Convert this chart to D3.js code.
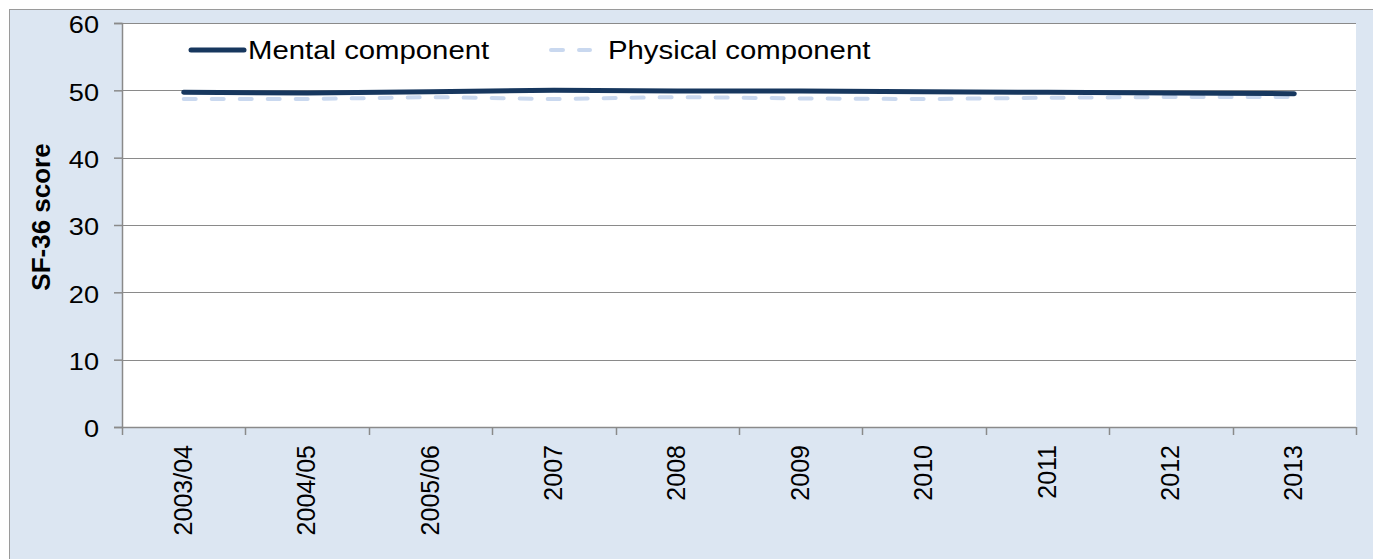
<!DOCTYPE html>
<html>
<head>
<meta charset="utf-8">
<script src="https://cdn.jsdelivr.net/npm/d3@7"></script>
<style>
  html, body { margin: 0; padding: 0; background: #ffffff; }
  svg { display: block; font-family: "Liberation Sans", Arial, sans-serif; }
</style>
</head>
<body>
<svg id="chart" width="1373" height="559"></svg>
<script>
// SF-36 summary scores by survey wave
const categories = ["2003/04", "2004/05", "2005/06", "2007", "2008", "2009", "2010", "2011", "2012", "2013"];
const mentalScores = [49.7, 49.6, 49.8, 50.0, 49.9, 49.9, 49.8, 49.7, 49.6, 49.5];
const physicalScores = [48.7, 48.7, 49.0, 48.7, 49.0, 48.8, 48.7, 48.9, 49.0, 49.0];
const yTicks = [0, 10, 20, 30, 40, 50, 60];
const seriesNames = ["Mental component", "Physical component"];

const svg = d3.select("#chart");
const W = 1373, H = 559;
const plot = { left: 122, right: 1356, top: 23, bottom: 427 };

// outer chart background
svg.append("rect")
  .attr("x", 9.5).attr("y", 9.5)
  .attr("width", W + 20).attr("height", H + 20)
  .attr("fill", "#dce6f2").attr("stroke", "#9a9a9a").attr("stroke-width", 1);

// plot area
svg.append("rect")
  .attr("x", plot.left).attr("y", plot.top)
  .attr("width", plot.right - plot.left).attr("height", plot.bottom - plot.top)
  .attr("fill", "#ffffff");

const x = d3.scaleBand().domain(categories).range([plot.left, plot.right]).paddingInner(0).paddingOuter(0);
const xc = d => x(d) + x.bandwidth() / 2;
const y = d3.scaleLinear().domain([0, 60]).range([plot.bottom, plot.top]);

// horizontal gridlines
svg.append("g").selectAll("line").data(yTicks.filter(t => t > 0)).join("line")
  .attr("x1", plot.left).attr("x2", plot.right)
  .attr("y1", d => Math.round(y(d)) + 0.5).attr("y2", d => Math.round(y(d)) + 0.5)
  .attr("stroke", "#8a8a8a").attr("stroke-width", 1);

// y axis
const yAxis = svg.append("g")
  .attr("transform", `translate(${plot.left},0)`)
  .call(d3.axisLeft(y).tickValues(yTicks).tickSize(8).tickPadding(8).tickFormat(d3.format("d")));
yAxis.select(".domain").attr("stroke", "#8a8a8a").attr("stroke-width", 1.5);
yAxis.selectAll(".tick line").attr("stroke", "#8a8a8a").attr("stroke-width", 1.5);
yAxis.selectAll(".tick text")
  .attr("font-size", 23).attr("fill", "#000")
  .attr("font-family", "Liberation Sans, Arial, sans-serif")
  .attr("dy", "0.42em")
  .attr("transform", "translate(-23,0) scale(1.18,1)")
  .attr("x", 0);

// x axis: line with ticks at category boundaries
const xAxis = svg.append("g");
xAxis.append("line")
  .attr("x1", plot.left).attr("x2", plot.right)
  .attr("y1", plot.bottom + 0.5).attr("y2", plot.bottom + 0.5)
  .attr("stroke", "#8a8a8a").attr("stroke-width", 1.5);
const edges = categories.map(c => x(c)).concat([plot.right]);
xAxis.selectAll("line.tk").data(edges).join("line").attr("class", "tk")
  .attr("x1", d => Math.round(d) + 0.5).attr("x2", d => Math.round(d) + 0.5)
  .attr("y1", plot.bottom).attr("y2", plot.bottom + 8)
  .attr("stroke", "#8a8a8a").attr("stroke-width", 1.5);
xAxis.selectAll("text").data(categories).join("text")
  .attr("transform", d => `translate(${xc(d) + 8},${plot.bottom + 18}) rotate(-90)`)
  .attr("text-anchor", "end")
  .attr("font-size", 25)
  .attr("fill", "#000")
  .text(d => d);

// y axis title
svg.append("text")
  .attr("transform", `translate(50,${(plot.top + plot.bottom) / 2 - 8}) rotate(-90)`)
  .attr("text-anchor", "middle")
  .attr("font-size", 26).attr("font-weight", "bold").attr("fill", "#000")
  .text("SF-36 score");

// series lines
const line = d3.line().x((d, i) => xc(categories[i])).y(d => y(d));
svg.append("path").datum(physicalScores)
  .attr("d", line).attr("fill", "none")
  .attr("stroke", "#c9d8ef").attr("stroke-width", 4)
  .attr("stroke-dasharray", "12,16").attr("stroke-linecap", "round");
svg.append("path").datum(mentalScores)
  .attr("d", line).attr("fill", "none")
  .attr("stroke", "#17375e").attr("stroke-width", 5)
  .attr("stroke-linecap", "round").attr("stroke-linejoin", "round");

// legend
const legend = svg.append("g");
legend.append("line").attr("x1", 191).attr("x2", 244).attr("y1", 50).attr("y2", 50)
  .attr("stroke", "#17375e").attr("stroke-width", 5).attr("stroke-linecap", "round");
legend.append("text")
  .attr("transform", "translate(248,50) scale(1.15,1)")
  .attr("dy", "0.36em").attr("font-size", 25.5).attr("fill", "#000")
  .text(seriesNames[0]);
legend.append("line").attr("x1", 551).attr("x2", 590).attr("y1", 50).attr("y2", 50)
  .attr("stroke", "#c9d8ef").attr("stroke-width", 4)
  .attr("stroke-dasharray", "12,16").attr("stroke-linecap", "round");
legend.append("text")
  .attr("transform", "translate(608,50) scale(1.15,1)")
  .attr("dy", "0.36em").attr("font-size", 25.5).attr("fill", "#000")
  .text(seriesNames[1]);
</script>
</body>
</html>
